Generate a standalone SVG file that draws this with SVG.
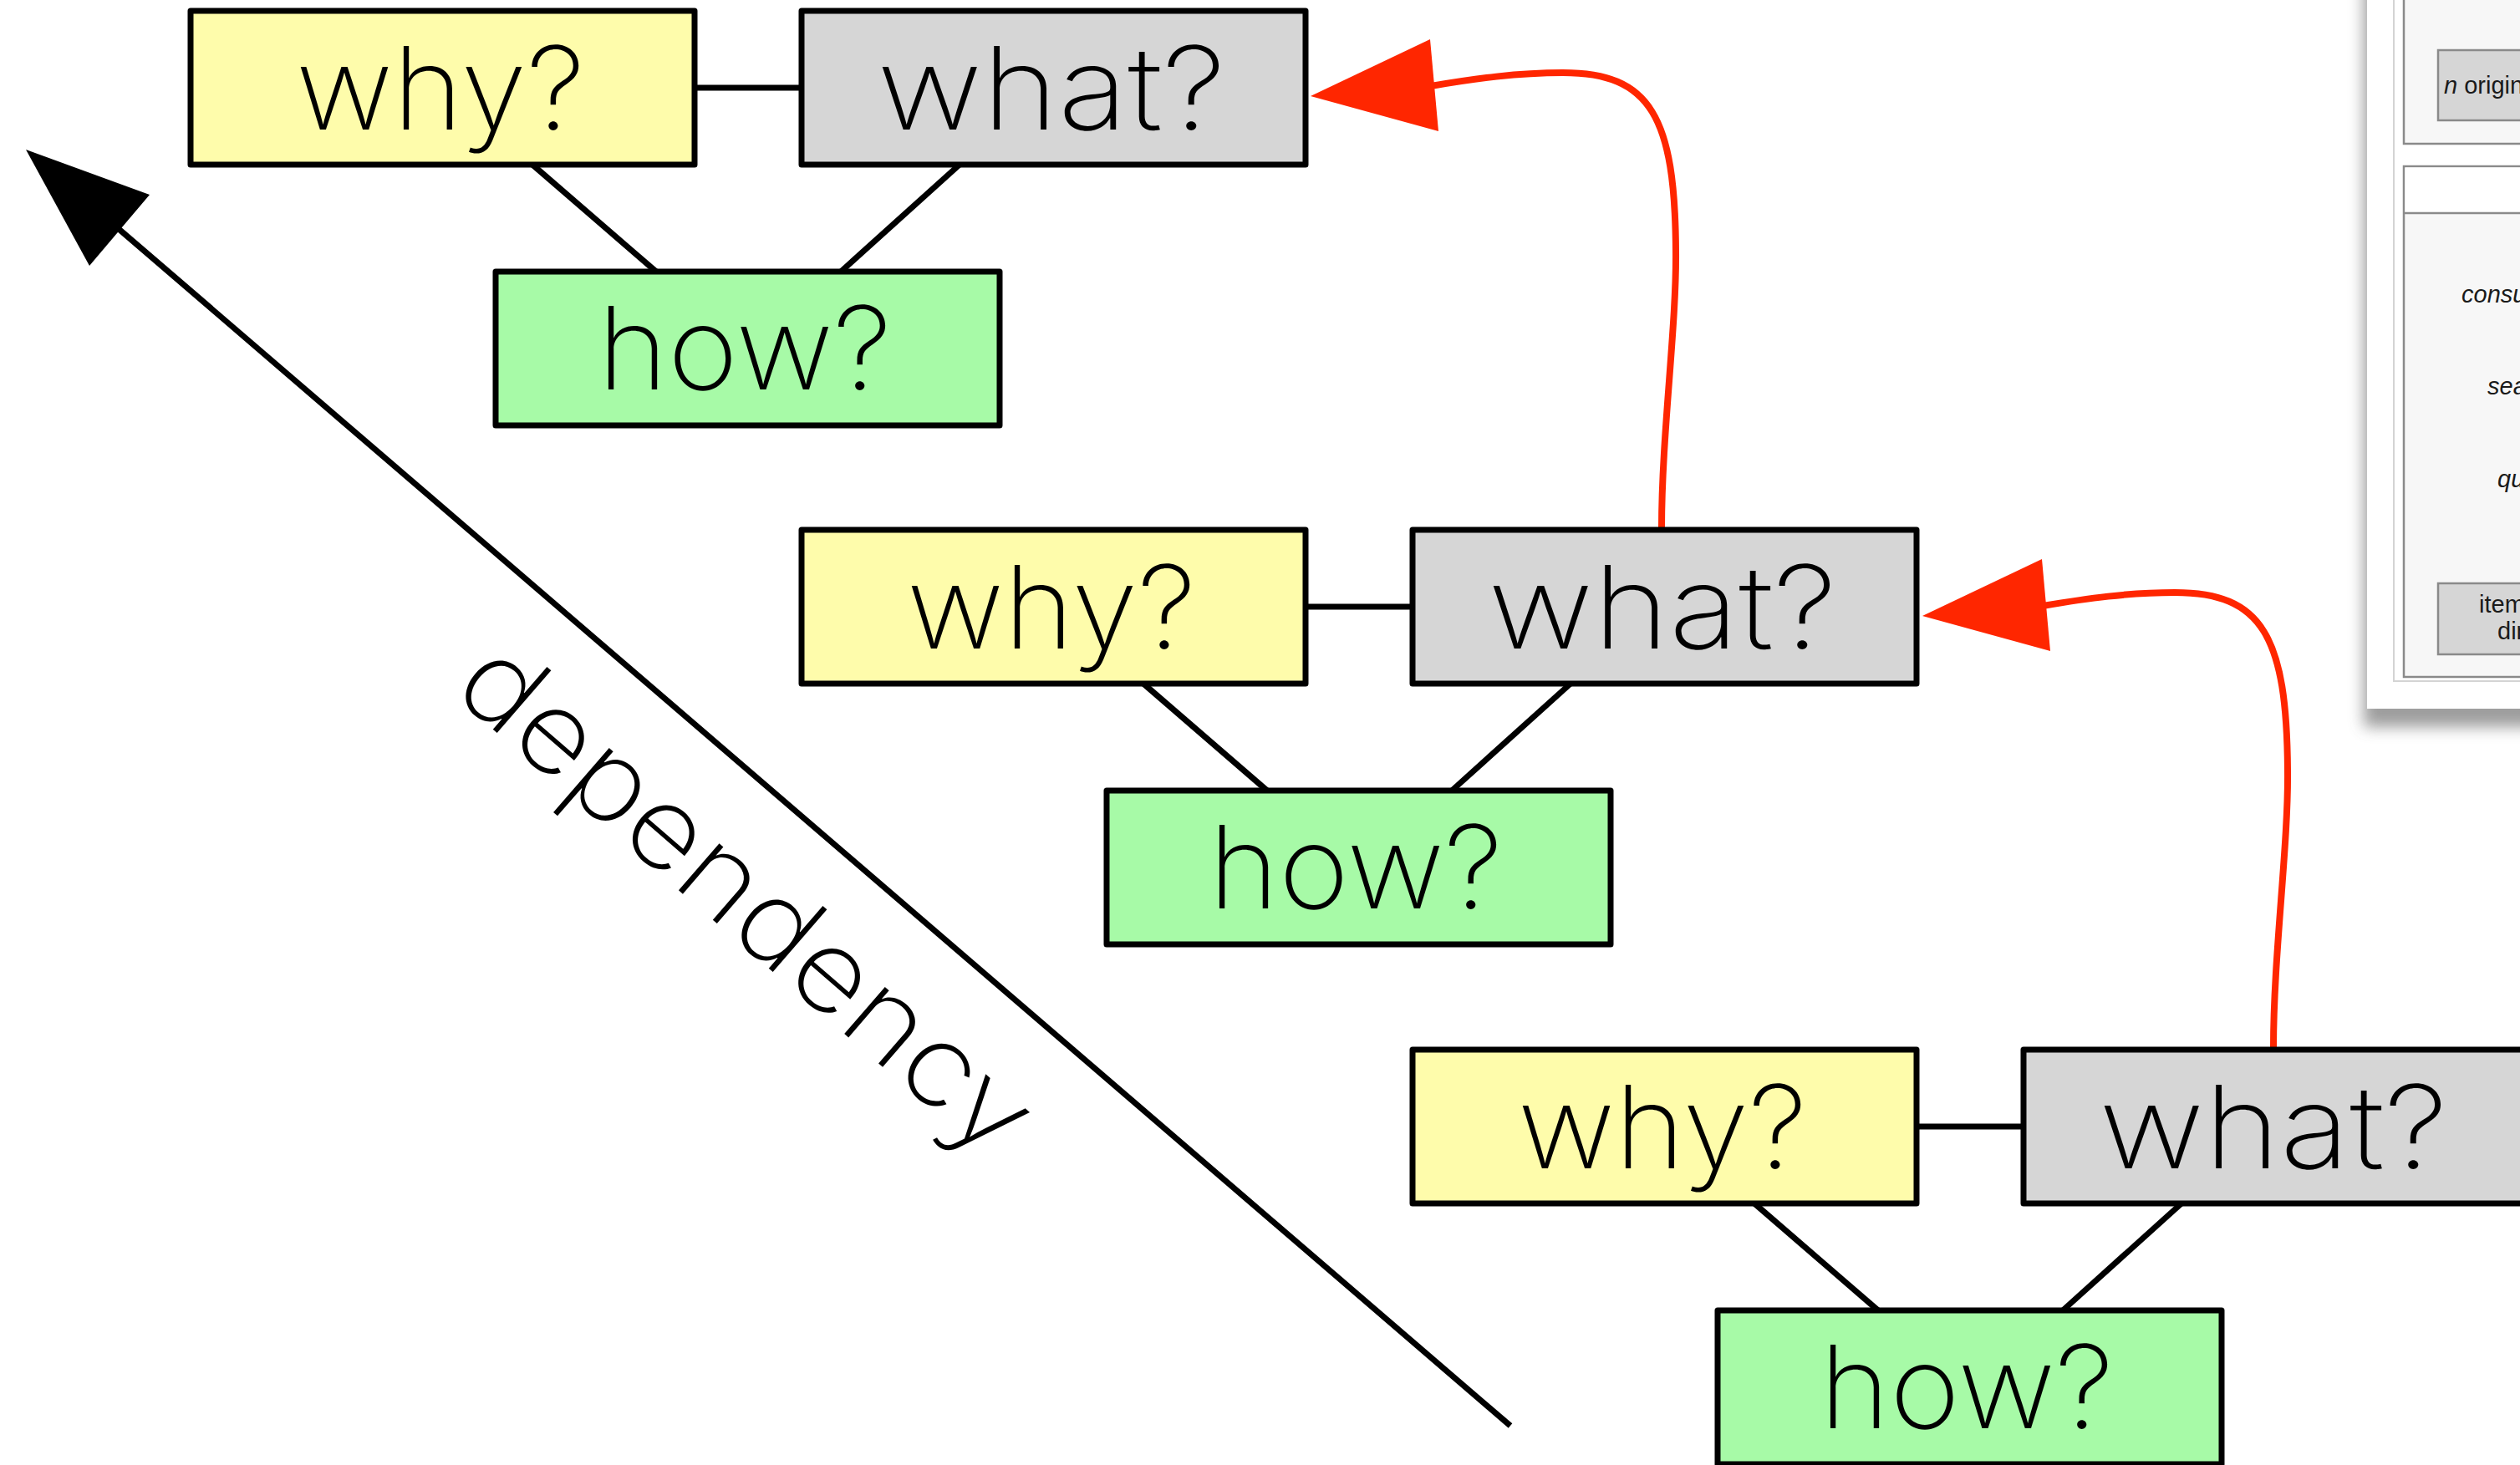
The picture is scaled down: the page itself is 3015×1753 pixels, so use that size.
<svg xmlns="http://www.w3.org/2000/svg" width="3015" height="1753" viewBox="0 0 3015 1753">
  <style>
    .box { stroke: #000; stroke-width: 7; stroke-linejoin: round; }
    .why { fill: #FEFCAB; }
    .what { fill: #D6D6D6; }
    .how { fill: #A7FAA7; }
    .lbl { font-family: Inter, Lato, "Open Sans", "Noto Sans", sans-serif; font-weight: 200; font-size: 138px; fill: #000; text-anchor: middle; }
    .dep { font-family: Inter, Lato, "Open Sans", "Noto Sans", sans-serif; font-weight: 200; font-size: 136px; fill: #000; }
    .link { stroke: #000; stroke-width: 7; fill: none; }
    .red { stroke: #FF2600; stroke-width: 8; fill: none; stroke-linecap: round; }
    .redhead { fill: #FF2600; }
    .ui { font-family: "Liberation Sans", Arial, sans-serif; font-size: 29px; fill: #1a1a1a; }
    .uibox { fill: #F7F7F7; stroke: #8A8A8A; stroke-width: 2.5; }
    .uibtn { fill: #D6D6D6; stroke: #8A8A8A; stroke-width: 2.5; }
  </style>
  <defs>
    <filter id="shadow" x="-20%" y="-20%" width="140%" height="140%">
      <feGaussianBlur stdDeviation="9"/>
    </filter>
    <!-- one why/what/how triple, placed three times -->
    <g id="triple-links">
      <line class="link" x1="831" y1="105" x2="959" y2="105"/>
      <line class="link" x1="637" y1="197" x2="785" y2="325"/>
      <line class="link" x1="1148" y1="197" x2="1006" y2="325"/>
    </g>
    <g id="red-link">
      <path class="red" d="M1988,632 C1988,520 2006,390 2005,300 C2004,140 1975,87 1870,87 C1815,87 1765,94 1712,103"/>
      <polygon class="redhead" points="1568,115 1711,47 1721,157"/>
    </g>
  </defs>

  <rect width="3015" height="1753" fill="#fff"/>

  <!-- side panel (cropped window) -->
  <g id="side-panel">
    <rect x="2828" y="-60" width="260" height="930" fill="#8c8c8c" opacity="0.85" filter="url(#shadow)"/>
    <rect x="2832" y="-60" width="220" height="908" fill="#fff"/>
    <rect x="2864" y="-20" width="200" height="835" fill="#fff" stroke="#d4d4d4" stroke-width="2"/>
    <rect class="uibox" x="2876" y="-20" width="180" height="192"/>
    <rect class="uibtn" x="2917" y="60" width="140" height="84"/>
    <text class="ui" x="2924" y="112"><tspan font-style="italic">n</tspan> origin</text>
    <rect class="uibox" x="2876" y="199" width="180" height="611"/>
    <rect x="2877.5" y="200.5" width="178" height="54" fill="#fff"/>
    <line x1="2876" y1="255" x2="3056" y2="255" stroke="#8A8A8A" stroke-width="2.5"/>
    <text class="ui" x="2945" y="362" font-style="italic">consu</text>
    <text class="ui" x="2976" y="472" font-style="italic">sea</text>
    <text class="ui" x="2988" y="583" font-style="italic">qu</text>
    <rect class="uibtn" x="2917" y="698" width="140" height="85"/>
    <text class="ui" x="2966" y="733">item</text>
    <text class="ui" x="2988" y="765">dir</text>
  </g>

  <!-- connectors -->
  <g id="connectors">
    <use href="#triple-links"/>
    <use href="#triple-links" transform="translate(731,621)"/>
    <use href="#triple-links" transform="translate(1462,1243)"/>
    <use href="#red-link"/>
    <use href="#red-link" transform="translate(732,622)"/>
    <line class="link" x1="1807" y1="1706" x2="120" y2="255"/>
    <polygon points="31,179 179,233 107,318" fill="#000"/>
  </g>

  <text class="dep" transform="translate(538,828) rotate(40.9)" textLength="860" lengthAdjust="spacingAndGlyphs">dependency</text>

  <!-- top triple -->
  <g id="why-1"><rect class="box why" x="228" y="13" width="603" height="184"/><text class="lbl" x="527" y="155" textLength="346" lengthAdjust="spacingAndGlyphs">why?</text></g>
  <g id="what-1"><rect class="box what" x="959" y="13" width="603" height="184"/><text class="lbl" x="1258" y="155" textLength="417" lengthAdjust="spacingAndGlyphs">what?</text></g>
  <g id="how-1"><rect class="box how" x="593" y="325" width="603" height="184"/><text class="lbl" x="891" y="466" textLength="352" lengthAdjust="spacingAndGlyphs">how?</text></g>

  <!-- middle triple -->
  <g id="why-2"><rect class="box why" x="959" y="634" width="603" height="184"/><text class="lbl" x="1258" y="776" textLength="346" lengthAdjust="spacingAndGlyphs">why?</text></g>
  <g id="what-2"><rect class="box what" x="1690" y="634" width="603" height="184"/><text class="lbl" x="1989" y="776" textLength="417" lengthAdjust="spacingAndGlyphs">what?</text></g>
  <g id="how-2"><rect class="box how" x="1324" y="946" width="603" height="184"/><text class="lbl" x="1622" y="1087" textLength="352" lengthAdjust="spacingAndGlyphs">how?</text></g>

  <!-- bottom triple -->
  <g id="why-3"><rect class="box why" x="1690" y="1256" width="603" height="184"/><text class="lbl" x="1989" y="1398" textLength="346" lengthAdjust="spacingAndGlyphs">why?</text></g>
  <g id="what-3"><rect class="box what" x="2421" y="1256" width="603" height="184"/><text class="lbl" x="2720" y="1398" textLength="417" lengthAdjust="spacingAndGlyphs">what?</text></g>
  <g id="how-3"><rect class="box how" x="2055" y="1568" width="603" height="184"/><text class="lbl" x="2353" y="1709" textLength="352" lengthAdjust="spacingAndGlyphs">how?</text></g>
</svg>
